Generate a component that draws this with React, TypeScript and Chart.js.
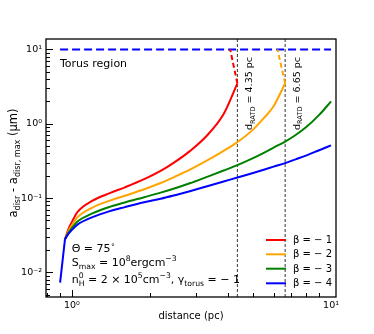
import React, { useEffect, useRef } from 'react';
import { Chart, registerables } from 'chart.js';

Chart.register(...registerables);

const FONT = '"DejaVu Sans", sans-serif';

// ---- data ----
const distance = [0.94, 0.97, 1.0, 1.05, 1.2, 1.4, 1.6, 1.9, 2.2, 2.5, 2.85, 3.3, 3.85, 4.35, 5.0, 5.5, 6.0, 6.65, 7.3, 8.0, 9.0, 10.0];
const beta1 = [0.02795, 0.0385, 0.0479, 0.0649, 0.0922, 0.1166, 0.1395, 0.1796, 0.2319, 0.3066, 0.4283, 0.6785, 1.352, 3.488];
const beta2 = [0.02795, 0.0362, 0.0431, 0.0551, 0.0746, 0.0924, 0.1076, 0.1316, 0.1595, 0.1944, 0.2407, 0.3161, 0.4311, 0.5661, 0.8337, 1.187, 1.716, 3.499];
const beta3 = [0.02795, 0.0344, 0.0397, 0.0484, 0.0622, 0.0761, 0.0874, 0.1027, 0.1183, 0.1353, 0.158, 0.1914, 0.2348, 0.2776, 0.3448, 0.4064, 0.4774, 0.5749, 0.7054, 0.8954, 1.315, 1.997];
const beta4 = [0.02795, 0.0332, 0.0373, 0.0439, 0.0554, 0.0668, 0.0756, 0.0877, 0.0977, 0.1093, 0.1237, 0.143, 0.167, 0.1891, 0.2174, 0.2407, 0.265, 0.2954, 0.3322, 0.3725, 0.4405, 0.5109];

// steep initial rise shared by all curves
const riseX = [0.9, 0.94];
const riseY = [0.0073, 0.02795];

const redDashX = [4.35, 4.08];
const redDashY = [3.488, 10];
const orangeDashX = [6.65, 6.21];
const orangeDashY = [3.499, 10];
const torusX = [0.9, 10];
const torusY = [10, 10];
const ratdDistances = [4.35, 6.65];
const ratdLabels = ['4.35', '6.65'];

const seriesLabels = ['β = − 1', 'β = − 2', 'β = − 3', 'β = − 4'];
const seriesColors = ['#ff0000', '#ffa500', '#008000', '#0000ff'];

const xMajor = [1, 10];
const yMajor = [0.01, 0.1, 1, 10];
const X_MIN = 0.794;
const X_MAX = 10.45;
const Y_MIN = 0.00467;
const Y_MAX = 13.8;

const SUP: Record<string, string> = { '0': '⁰', '1': '¹', '2': '²', '3': '³', '-': '⁻' };
const fmtPow = (v: number) => {
  const e = Math.round(Math.log10(v));
  return '10' + String(e).split('').map((c) => SUP[c] || c).join('');
};

type Seg = { t: string; k?: 'sub' | 'sup'; stack?: boolean };

function drawRich(ctx: CanvasRenderingContext2D, segs: Seg[], x: number, y: number, size: number, align: 'left' | 'center') {
  const small = size * 0.7;
  const widths = segs.map((s) => {
    ctx.font = `${s.k ? small : size}px ${FONT}`;
    return ctx.measureText(s.t).width;
  });
  const advances: number[] = [];
  for (let i = 0; i < segs.length; i++) {
    if (segs[i].stack) advances.push(0);
    else if (i > 0 && segs[i - 1].stack) advances.push(Math.max(widths[i], widths[i - 1]));
    else advances.push(widths[i]);
  }
  const total = advances.reduce((a, b) => a + b, 0);
  let cx = align === 'center' ? x - total / 2 : x;
  ctx.textAlign = 'left';
  ctx.textBaseline = 'alphabetic';
  segs.forEach((s, i) => {
    ctx.font = `${s.k ? small : size}px ${FONT}`;
    const dy = s.k === 'sub' ? size * 0.3 : s.k === 'sup' ? -size * 0.42 : 0;
    ctx.fillText(s.t, cx, y + dy);
    cx += advances[i];
  });
}

const pts = (xs: number[], ys: number[]) => ys.map((y, i) => ({ x: xs[i], y }));

const decorations = {
  id: 'decorations',
  afterDatasetsDraw(chart: any) {
    const { ctx, chartArea } = chart;
    const { left, right, top, bottom } = chartArea;
    const xs = chart.scales.x;
    const ys = chart.scales.y;
    ctx.save();
    ctx.fillStyle = '#000';
    ctx.strokeStyle = '#000';

    // ticks (inward)
    ctx.lineWidth = 1;
    ctx.beginPath();
    for (const dec of [0.1, 1]) {
      for (let m = 1; m <= 9; m++) {
        const v = m * dec;
        const p = xs.getPixelForValue(v);
        if (p < left + 0.5 || p > right - 0.5) continue;
        const len = m === 1 ? 7 : 4;
        ctx.moveTo(Math.round(p) + 0.5, bottom);
        ctx.lineTo(Math.round(p) + 0.5, bottom - len);
      }
    }
    for (const dec of [0.001, 0.01, 0.1, 1, 10]) {
      for (let m = 1; m <= 9; m++) {
        const v = m * dec;
        const p = ys.getPixelForValue(v);
        if (p < top + 0.5 || p > bottom - 0.5) continue;
        const len = m === 1 ? 7 : 4;
        ctx.moveTo(left, Math.round(p) + 0.5);
        ctx.lineTo(left + len, Math.round(p) + 0.5);
      }
    }
    ctx.stroke();

    // frame
    ctx.lineWidth = 1.3;
    ctx.strokeRect(left, top, right - left, bottom - top);

    // Torus region
    ctx.font = `11px ${FONT}`;
    ctx.textAlign = 'left';
    ctx.textBaseline = 'alphabetic';
    ctx.fillText('Torus region', 60, 67);

    // parameter block
    drawRich(ctx, [{ t: 'Θ = 75' }, { t: '∘', k: 'sup' }], 71.7, 251.5, 11, 'left');
    drawRich(ctx, [{ t: 'S' }, { t: 'max', k: 'sub' }, { t: ' = 10' }, { t: '8', k: 'sup' }, { t: 'ergcm' }, { t: '−3', k: 'sup' }], 71.7, 266, 11, 'left');
    drawRich(
      ctx,
      [
        { t: 'n' },
        { t: 'H', k: 'sub', stack: true },
        { t: '0', k: 'sup' },
        { t: ' = 2 × 10' },
        { t: '5', k: 'sup' },
        { t: 'cm' },
        { t: '−3', k: 'sup' },
        { t: ', γ' },
        { t: 'torus', k: 'sub' },
        { t: ' = − 1' },
      ],
      71.7,
      283,
      11,
      'left'
    );

    // vertical RATD labels
    ratdDistances.forEach((d, i) => {
      const px = xs.getPixelForValue(d);
      ctx.save();
      ctx.translate(px + 11, 130);
      ctx.rotate(-Math.PI / 2);
      drawRich(ctx, [{ t: 'd' }, { t: 'RATD', k: 'sub' }, { t: ` = ${ratdLabels[i]} pc` }], 0, 3.5, 9.5, 'left');
      ctx.restore();
    });

    // legend
    const rowY = [240, 254.3, 268.7, 283.3];
    seriesLabels.forEach((lab, i) => {
      ctx.strokeStyle = seriesColors[i];
      ctx.lineWidth = 2;
      ctx.beginPath();
      ctx.moveTo(266, rowY[i]);
      ctx.lineTo(286, rowY[i]);
      ctx.stroke();
      ctx.fillStyle = '#000';
      ctx.font = `10px ${FONT}`;
      ctx.textAlign = 'left';
      ctx.textBaseline = 'middle';
      ctx.fillText(lab, 293, rowY[i] + 0.5);
    });

    // y-axis title
    ctx.save();
    ctx.translate(17, 163);
    ctx.rotate(-Math.PI / 2);
    ctx.fillStyle = '#000';
    drawRich(
      ctx,
      [{ t: 'a' }, { t: 'disr', k: 'sub' }, { t: ' - a' }, { t: 'disr, max', k: 'sub' }, { t: ' (μm)' }],
      0,
      0,
      11.5,
      'center'
    );
    ctx.restore();

    ctx.restore();
  },
};

export default function App() {
  const ref = useRef<HTMLCanvasElement | null>(null);
  useEffect(() => {
    if (!ref.current) return;
    const line = (label: string, xs: number[], ys: number[], color: string, order: number, width: number, dash: number[], smooth: boolean) => ({
      label,
      data: pts(xs, ys),
      borderColor: color,
      backgroundColor: color,
      borderWidth: width,
      borderDash: dash,
      borderJoinStyle: 'round' as const,
      pointRadius: 0,
      fill: false,
      tension: 0,
      cubicInterpolationMode: smooth ? ('monotone' as const) : ('default' as const),
      order,
    });
    const datasets: any[] = [
      line(seriesLabels[3] + ' (rise)', riseX, riseY, seriesColors[3], 0, 2, [], false),
      line(seriesLabels[3], distance, beta4, seriesColors[3], 0, 2, [], true),
      line(seriesLabels[2], distance, beta3, seriesColors[2], 1, 2, [], true),
      line(seriesLabels[1], distance, beta2, seriesColors[1], 2, 2, [], true),
      line(seriesLabels[0], distance, beta1, seriesColors[0], 3, 2, [], true),
      line('β = − 1 (torus)', redDashX, redDashY, seriesColors[0], 4, 2, [5, 3], false),
      line('β = − 2 (torus)', orangeDashX, orangeDashY, seriesColors[1], 4, 2, [5, 3], false),
      line('Torus region', torusX, torusY, '#0000ff', 5, 2, [8, 4], false),
      ...ratdDistances.map((d) => line('d_RATD', [d, d], [Y_MIN, Y_MAX], '#000', 6, 0.8, [3, 2], false)),
    ];
    const chart = new Chart(ref.current, {
      type: 'line',
      data: { datasets },
      options: {
        animation: false,
        responsive: false,
        devicePixelRatio: 1,
        layout: { padding: { top: 39, right: 38, left: 0, bottom: 0 } },
        plugins: { legend: { display: false }, tooltip: { enabled: false } },
        scales: {
          x: {
            type: 'logarithmic',
            min: X_MIN,
            max: X_MAX,
            bounds: 'data',
            afterBuildTicks: (s: any) => {
              s.ticks = xMajor.map((v) => ({ value: v }));
            },
            afterFit: (s: any) => {
              s.height = 37;
            },
            grid: { display: false, drawTicks: false },
            border: { display: false },
            ticks: {
              callback: (v: any) => fmtPow(Number(v)),
              font: { family: FONT, size: 9.5 },
              color: '#000',
              padding: 3,
              maxRotation: 0,
              autoSkip: false,
            },
            title: {
              display: true,
              text: 'distance (pc)',
              font: { family: FONT, size: 10 },
              color: '#000',
              padding: { top: 0, bottom: 12 },
            },
          },
          y: {
            type: 'logarithmic',
            min: Y_MIN,
            max: Y_MAX,
            bounds: 'data',
            afterBuildTicks: (s: any) => {
              s.ticks = yMajor.map((v) => ({ value: v }));
            },
            afterFit: (s: any) => {
              s.width = 46;
            },
            grid: { display: false, drawTicks: false },
            border: { display: false },
            ticks: {
              callback: (v: any) => fmtPow(Number(v)),
              font: { family: FONT, size: 9.5 },
              color: '#000',
              padding: 4,
              autoSkip: false,
            },
          },
        },
      },
      plugins: [decorations],
    } as any);
    return () => chart.destroy();
  }, []);
  return (
    <div style={{ position: 'absolute', left: 0, top: 0, width: 374, height: 334, background: '#fff' }}>
      <canvas ref={ref} width={374} height={334} style={{ width: 374, height: 334, display: 'block' }} />
    </div>
  );
}
